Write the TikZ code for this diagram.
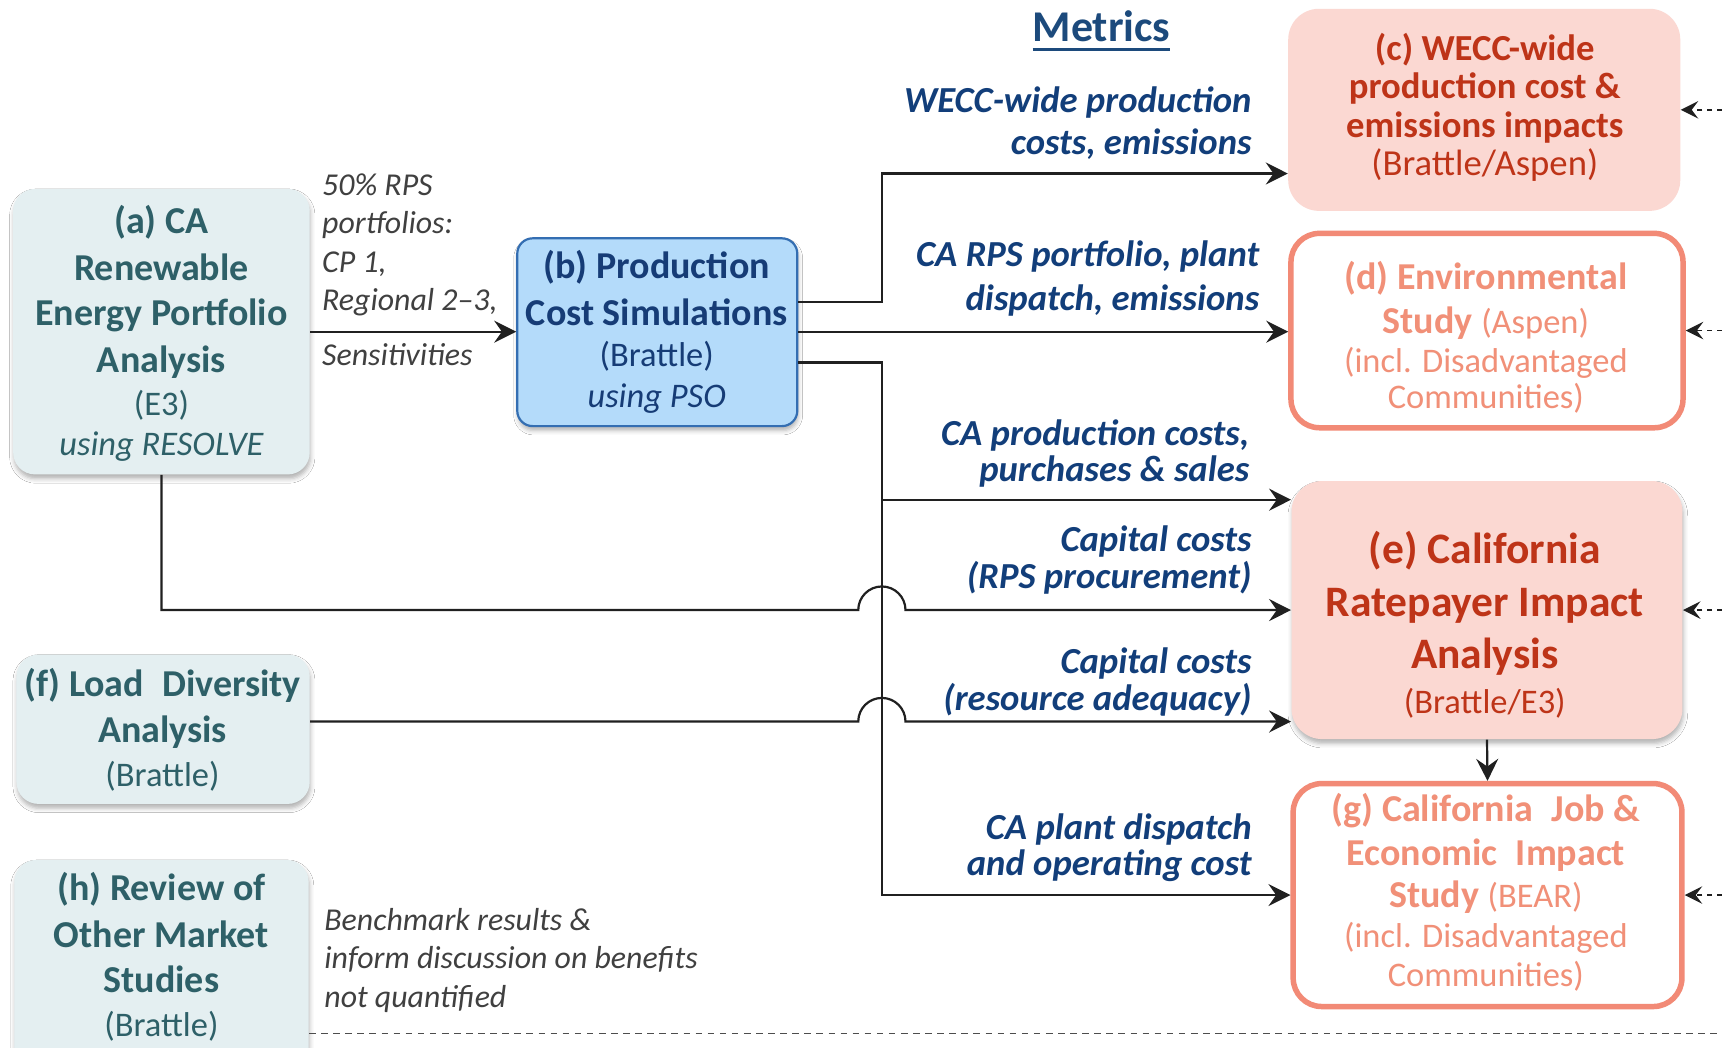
\documentclass[tikz,border=0pt]{standalone}
\usepackage{fontspec}
\setmainfont{Carlito}
\usetikzlibrary{arrows.meta,shadows.blur}
\definecolor{tealtxt}{RGB}{46,96,104}
\definecolor{tealfill}{RGB}{228,239,241}
\definecolor{bfill}{RGB}{180,219,250}
\definecolor{bline}{RGB}{52,110,178}
\definecolor{btxt}{RGB}{22,60,118}
\definecolor{mblue}{RGB}{18,62,122}
\definecolor{titleblue}{RGB}{28,74,124}
\definecolor{pinkfill}{RGB}{251,216,210}
\definecolor{redtxt}{RGB}{190,52,24}
\definecolor{salline}{RGB}{242,138,118}
\definecolor{saltxt}{RGB}{241,144,120}
\definecolor{graytxt}{RGB}{64,64,64}
\definecolor{linecol}{RGB}{32,32,32}
\begin{document}
\begin{tikzpicture}[x=0.5pt,y=-0.5pt,
  shad/.style={blur shadow={shadow xshift=0.4pt,shadow yshift=-2pt,shadow blur radius=2pt,shadow opacity=30}},
  tealbox/.style={fill=tealfill,rounded corners=10pt,inner sep=0pt,shad},
  bbox/.style={fill=bfill,draw=bline,line width=1pt,rounded corners=7pt,inner sep=0pt,shad},
  pinkbox/.style={fill=pinkfill,rounded corners=14pt,inner sep=0pt},
  salbox/.style={fill=white,draw=salline,line width=2.5pt,rounded corners=13pt,inner sep=0pt},
  tl/.style={anchor=base,inner sep=0pt,outer sep=0pt},
  fB/.style={font=\fontsize{17.3}{20}\selectfont\bfseries},
  fR/.style={font=\fontsize{15.7}{18}\selectfont},
  fI/.style={font=\fontsize{15.7}{18}\selectfont\itshape},
  mlab/.style={anchor=base east,inner sep=0pt,text=mblue,font=\fontsize{16.7}{19}\selectfont\bfseries\itshape},
  glab/.style={anchor=base west,inner sep=0pt,text=graytxt,font=\fontsize{14.5}{17}\selectfont\itshape},
  conn/.style={draw=linecol,line width=1pt,-{Stealth[length=10pt,width=10pt,inset=3.5pt]}},
  dconn/.style={draw=linecol,line width=0.7pt,dash pattern=on 2.5pt off 2pt,-{Stealth[length=8pt,width=8pt,inset=3pt]}},
  dline/.style={draw=linecol!80,line width=0.7pt,dash pattern=on 3pt off 2.5pt}
]
\useasboundingbox (0,0) rectangle (1568,954);
\fill[white] (0,0) rectangle (1568,954);

% ---------- boxes ----------
\node[tealbox,minimum width=135pt,minimum height=130pt] (a) at (147,302) {};
\node[bbox,minimum width=127.5pt,minimum height=85.5pt] (b) at (598.5,302.5) {};
\node[pinkbox,minimum width=178.5pt,minimum height=92pt] (c) at (1351.5,100) {};
\node[salbox,minimum width=178.5pt,minimum height=88.5pt] (d) at (1354,301) {};
\node[pinkbox,minimum width=178pt,minimum height=117.5pt,shad] (e) at (1354,555.5) {};
\node[salbox,minimum width=177pt,minimum height=101.5pt] (g) at (1354.5,815) {};
\node[tealbox,minimum width=133.5pt,minimum height=68pt] (f) at (148.5,664) {};
\node[tealbox,minimum width=134pt,minimum height=96pt] (h) at (147,879) {};

% ---------- box texts ----------
\node[tl,fB,text=tealtxt] (a1) at (147,213) {(a) CA};
\node[tl,fB,text=tealtxt] (a2) at (147,255) {Renewable};
\node[tl,fB,text=tealtxt] (a3) at (147,296) {Energy Portfolio};
\node[tl,fB,text=tealtxt] (a4) at (147,339) {Analysis};
\node[tl,fR,text=tealtxt] (a5) at (147,378) {(E3)};
\node[tl,fI,text=tealtxt] (a6) at (147,415) {using RESOLVE};

\node[tl,fB,text=btxt] (b1) at (598,254) {(b) Production};
\node[tl,fB,text=btxt] (b2) at (598,296) {Cost Simulations};
\node[tl,fR,text=btxt] (b3) at (598,334) {(Brattle)};
\node[tl,fI,text=btxt] (b4) at (598,371) {using PSO};

\node[tl,font=\fontsize{16.7}{19}\selectfont\bfseries,text=redtxt] (c1) at (1352,55) {(c) WECC-wide};
\node[tl,font=\fontsize{16.7}{19}\selectfont\bfseries,text=redtxt] (c2) at (1352,90) {production cost \&};
\node[tl,font=\fontsize{16.7}{19}\selectfont\bfseries,text=redtxt] (c3) at (1352,125) {emissions impacts};
\node[tl,font=\fontsize{16.7}{19}\selectfont,text=redtxt] (c4) at (1352,160) {(Brattle/Aspen)};

\node[tl,fB,text=saltxt] (d1) at (1353,264) {(d) Environmental};
\node[tl,fB,text=saltxt] (d2) at (1353,304) {Study {\fontsize{15.7}{18}\selectfont\mdseries (Aspen)}};
\node[tl,fR,text=saltxt] (d3) at (1353,339) {(incl. Disadvantaged};
\node[tl,fR,text=saltxt] (d4) at (1353,372) {Communities)};

\node[tl,font=\fontsize{19.8}{23}\selectfont\bfseries,text=redtxt] (e1) at (1352,513) {(e) California};
\node[tl,font=\fontsize{19.8}{23}\selectfont\bfseries,text=redtxt] (e2) at (1352,561) {Ratepayer Impact};
\node[tl,font=\fontsize{19.8}{23}\selectfont\bfseries,text=redtxt] (e3) at (1352,609) {Analysis};
\node[tl,fR,text=redtxt] (e4) at (1352,650) {(Brattle/E3)};

\node[tl,fB,text=saltxt] (g1) at (1353,748) {(g) California\hspace{0.25em} Job \&};
\node[tl,fB,text=saltxt] (g2) at (1353,788) {Economic\hspace{0.25em} Impact};
\node[tl,fB,text=saltxt] (g3) at (1353,826) {Study {\fontsize{15.7}{18}\selectfont\mdseries (BEAR)}};
\node[tl,fR,text=saltxt] (g4) at (1353,863) {(incl. Disadvantaged};
\node[tl,fR,text=saltxt] (g5) at (1353,898) {Communities)};

\node[tl,fB,text=tealtxt] (f1) at (148,634) {(f) Load\hspace{0.25em} Diversity};
\node[tl,fB,text=tealtxt] (f2) at (148,676) {Analysis};
\node[tl,fR,text=tealtxt] (f3) at (148,716) {(Brattle)};

\node[tl,fB,text=tealtxt] (h1) at (147,820) {(h) Review of};
\node[tl,fB,text=tealtxt] (h2) at (147,863) {Other Market};
\node[tl,fB,text=tealtxt] (h3) at (147,904) {Studies};
\node[tl,fR,text=tealtxt] (h4) at (147,944) {(Brattle)};

% ---------- title ----------
\node[tl,font=\fontsize{20}{24}\selectfont\bfseries,text=titleblue] (met) at (1003,38) {Metrics};
\draw[titleblue,line width=1.4pt] ([yshift=-3.6pt]met.base west) -- ([yshift=-3.6pt]met.base east);

% ---------- labels ----------
\node[glab] (l1) at (293,178) {50\% RPS};
\node[glab] (l2) at (293,213) {portfolios:};
\node[glab] (l3) at (293,248) {CP 1,};
\node[glab] (l4) at (293,283) {Regional 2--3,};
\node[glab] (l5) at (293,333) {Sensitivities};
\node[glab] (l6) at (295,847) {Benchmark results \&};
\node[glab] (l7) at (295,882) {inform discussion on benefits};
\node[glab] (l8) at (295,917) {not quantified};

\node[mlab] (m1a) at (1140,102) {WECC-wide production};
\node[mlab] (m1b) at (1140,141) {costs, emissions};
\node[mlab] (m2a) at (1147,243) {CA RPS portfolio, plant};
\node[mlab] (m2b) at (1147,283) {dispatch, emissions};
\node[mlab] (m3a) at (1138,406) {CA production costs,};
\node[mlab] (m3b) at (1138,438) {purchases \& sales};
\node[mlab] (m4a) at (1140,502) {Capital costs};
\node[mlab] (m4b) at (1140,536) {(RPS procurement)};
\node[mlab] (m5a) at (1140,613) {Capital costs};
\node[mlab] (m5b) at (1140,647) {(resource adequacy)};
\node[mlab] (m6a) at (1140,764) {CA plant dispatch};
\node[mlab] (m6b) at (1140,797) {and operating cost};

% ---------- connectors ----------
\coordinate (br) at (803,455);
\draw[conn] (a.east|-0,302) -- (b.west|-0,302);
\draw[conn] (b.east|-0,275) -| (803,158) -- (c.west|-0,158);
\draw[conn] (b.east|-0,302) -- (d.west|-0,302);
\draw[conn] (b.east|-0,330) -| (803,815) -- (g.west|-0,815);
\draw[conn] (br) -- (e.west|-0,455);
\draw[conn] (a.south) |- (781.5,555.5) arc[start angle=180,end angle=0,radius=10.75pt] -- (e.west);
\draw[conn] (f.east|-0,657) -- (781.5,657) arc[start angle=180,end angle=0,radius=10.75pt] -- (e.west|-0,657);
\draw[conn] (e.south) -- (g.north);

\coordinate (rc) at (1568,100);
\coordinate (rd) at (1568,301);
\coordinate (re) at (1568,555.5);
\coordinate (rg) at (1568,815);
\coordinate (rh) at (1568,941);
\draw[dconn] (rc) -- (c.east);
\draw[dconn] (rd) -- (d.east);
\draw[dconn] (re) -- (e.east);
\draw[dconn] (rg) -- (g.east);
\draw[dline] (h.east|-0,941) -- (rh);
\end{tikzpicture}
\end{document}
